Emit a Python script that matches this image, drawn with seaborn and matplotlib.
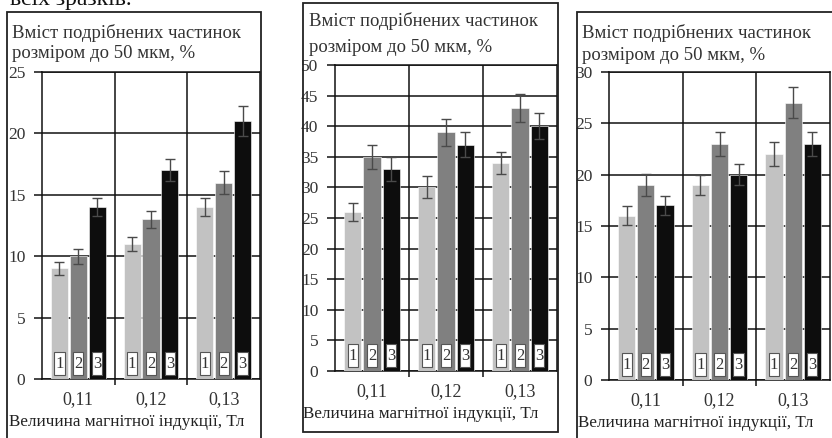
import pandas as pd
import matplotlib
matplotlib.use('Agg')
import matplotlib.pyplot as plt
import matplotlib.transforms as mtransforms
from matplotlib.patches import Rectangle
import seaborn as sns

# values
inductions = ['0,11', '0,12', '0,13']
samples = ['1', '2', '3']

p1_s1 = [9, 11, 14]
p1_s2 = [10, 13, 16]
p1_s3 = [14, 17, 21]
p1_e1 = [0.5, 0.6, 0.7]
p1_e2 = [0.6, 0.7, 0.9]
p1_e3 = [0.7, 0.9, 1.2]

p2_s1 = [26, 30, 34]
p2_s2 = [35, 39, 43]
p2_s3 = [33, 37, 40]
p2_e1 = [1.5, 1.8, 1.8]
p2_e2 = [2.0, 2.2, 2.3]
p2_e3 = [2.0, 2.0, 2.1]

p3_s1 = [16, 19, 22]
p3_s2 = [19, 23, 27]
p3_s3 = [17, 20, 23]
p3_e1 = [0.9, 1.0, 1.2]
p3_e2 = [1.1, 1.2, 1.5]
p3_e3 = [0.9, 1.0, 1.2]

y_max = [25, 50, 30]
y_step = [5, 5, 5]

header1 = 'Вміст подрібнених частинок'
header2 = 'розміром до 50 мкм, %'
xlabel = 'Величина магнітної індукції, Тл'
above_text = 'всіх зразків.'

colors = ['#c2c2c2', '#808080', '#0d0d0d']
W, H = 832, 438

plt.rcParams['font.family'] = ['Liberation Serif', 'DejaVu Serif']

fig = plt.figure(figsize=(W / 100, H / 100), dpi=100)
fig.patch.set_facecolor('white')


def px(x0, y0, x1, y1):
    # pixel box (top-left origin) -> figure fraction rect
    return [x0 / W, 1 - y1 / H, (x1 - x0) / W, (y1 - y0) / H]


# frame, axes box, header/label positions per panel (pixels)
panels = [
    dict(frame=(7, 12, 261, 450), ax=(42, 72, 260, 379), hx=12, h1=33, h2=54,
         xl=(9, 422), data=(p1_s1, p1_s2, p1_s3), err=(p1_e1, p1_e2, p1_e3)),
    dict(frame=(303, 3, 558, 432), ax=(335, 65, 557, 371), hx=309, h1=21, h2=47,
         xl=(303, 414), data=(p2_s1, p2_s2, p2_s3), err=(p2_e1, p2_e2, p2_e3)),
    dict(frame=(577, 12, 840, 450), ax=(609, 72, 830, 380), hx=582, h1=33, h2=55,
         xl=(578, 423), data=(p3_s1, p3_s2, p3_s3), err=(p3_e1, p3_e2, p3_e3)),
]

# tail of the caption line above the figure, cut by the image edge
fig.text(10 / W, 1 - 5 / H, above_text, fontsize=17, color='#111',
         va='baseline', ha='left')

for i, p in enumerate(panels):
    x0, y0, x1, y1 = p['frame']
    fig.patches.append(Rectangle((x0 / W, 1 - y1 / H), (x1 - x0) / W, (y1 - y0) / H,
                                 transform=fig.transFigure, fill=False,
                                 ec='#222', lw=1.3, zorder=0))
    fig.text(p['hx'] / W, 1 - p['h1'] / H, header1, fontsize=13.5, color='#333',
             va='center', ha='left')
    fig.text(p['hx'] / W, 1 - p['h2'] / H, header2, fontsize=13.5, color='#333',
             va='center', ha='left')
    t = fig.text(p['xl'][0] / W, 1 - p['xl'][1] / H, xlabel, fontsize=12.3,
                 color='#222', va='center', ha='left')
    clip = mtransforms.TransformedBbox(
        mtransforms.Bbox([[x0 / W, 0], [x1 / W, 1]]), fig.transFigure)
    t.set_clip_box(clip)
    t.set_clip_on(True)

    ax = fig.add_axes(px(*p['ax']))
    rows = []
    for s, vals, errs in zip(samples, p['data'], p['err']):
        for b, v, e in zip(inductions, vals, errs):
            rows.append(dict(B=b, value=v, err=e, sample=s))
    df = pd.DataFrame(rows)

    sns.barplot(data=df, x='B', y='value', hue='sample', palette=colors,
                width=0.78, gap=0.1, errorbar=None, legend=False, ax=ax,
                edgecolor='white', linewidth=0.4, zorder=3)

    blend = mtransforms.blended_transform_factory(ax.transData, ax.transAxes)
    for cont, s in zip(ax.containers, samples):
        sub = df[df['sample'] == s]
        xs = [bar.get_x() + bar.get_width() / 2 for bar in cont]
        ax.errorbar(xs, sub['value'].values, yerr=sub['err'].values, fmt='none',
                    ecolor='#4a4a4a', elinewidth=1, capsize=3.5, capthick=1,
                    zorder=4)
        for xc in xs:
            ax.add_patch(Rectangle((xc - 0.07, 0.013), 0.14, 0.075,
                                   transform=blend, fc='white', ec='#555',
                                   lw=0.8, zorder=5))
            ax.text(xc, 0.05, s, transform=blend, ha='center', va='center',
                    fontsize=12, color='#333', zorder=6)

    ax.set_ylim(0, y_max[i])
    ax.set_xlim(-0.5, 2.5)
    ax.set_yticks(range(0, y_max[i] + 1, y_step[i]))
    ax.set_xticks([0.5, 1.5], minor=True)
    ax.set_xlabel('')
    ax.set_ylabel('')
    ax.set_facecolor('white')
    ax.grid(axis='y', which='major', color='#111', lw=1.1, zorder=1)
    ax.grid(axis='x', which='minor', color='#111', lw=1.1, zorder=1)
    ax.set_axisbelow(True)
    ax.tick_params(axis='y', length=6, width=1.1, pad=6, labelsize=12.5,
                   labelcolor='#333', color='#111')
    ax.tick_params(axis='x', which='major', length=0, pad=9, labelsize=13,
                   labelcolor='#333')
    ax.tick_params(axis='x', which='minor', length=4, width=1.1, color='#111')
    for sp in ax.spines.values():
        sp.set_color('#111')
        sp.set_linewidth(1.1)

fig.savefig('out.png', dpi=100, facecolor='white')
